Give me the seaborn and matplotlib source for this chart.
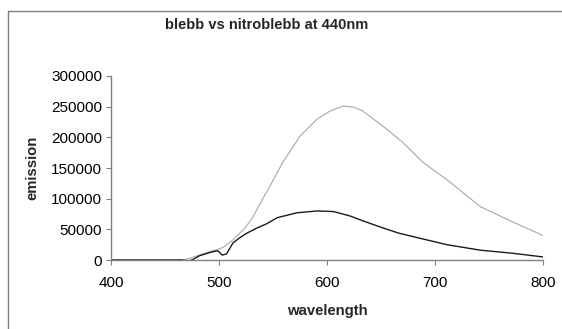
import numpy as np
import pandas as pd
import seaborn as sns
import matplotlib
matplotlib.use('Agg')
import matplotlib.pyplot as plt
from matplotlib.lines import Line2D
from matplotlib.ticker import MultipleLocator, FuncFormatter

# Values (emission spectra, excitation 440 nm)
wl_blebb = [400, 460, 470, 480, 490, 500, 505, 513, 524, 531, 539, 547, 559, 575,
            591, 603, 615, 625, 633, 652, 670, 689, 711, 742, 772, 800]
blebb = [0, 0, 1000, 7000, 13000, 18000, 22000, 33000, 52000, 69000, 95000, 120000,
         159000, 202000, 230000, 243000, 251000, 249000, 243000, 218000, 192000,
         159000, 131000, 87000, 62000, 40000]

wl_nitro = [400, 465, 472, 476, 482, 494, 499, 503, 507, 513, 519, 526, 535, 544,
            554, 572, 591, 606, 621, 633, 649, 666, 680, 711, 742, 772, 800]
nitroblebb = [0, 0, -2000, 1000, 7000, 13500, 15000, 8000, 10000, 28000, 36000,
              44000, 52000, 59000, 69000, 77000, 80000, 79000, 72000, 64000, 54000,
              44000, 38000, 25000, 16000, 11000, 5000]

x_ticks = [400, 500, 600, 700, 800]

df_b = pd.DataFrame({'wavelength': wl_blebb, 'emission': blebb})
df_n = pd.DataFrame({'wavelength': wl_nitro, 'emission': nitroblebb})

sns.set_style('white')
plt.rcParams['font.family'] = ['Liberation Sans', 'DejaVu Sans']

fig = plt.figure(figsize=(5.62, 3.29), dpi=100)
ax = fig.add_axes([0.1975, 0.2097, 0.7687, 0.5593])

sns.lineplot(x='wavelength', y='emission', data=df_b, ax=ax, color='#a8a8a8', linewidth=0.8)
sns.lineplot(x='wavelength', y='emission', data=df_n, ax=ax, color='#1a1a1a', linewidth=1.0)

ax.set_xlim(400, 800)
ax.set_ylim(0, 300000)
ax.set_xticks(x_ticks)
ax.yaxis.set_major_locator(MultipleLocator(50000))
ax.yaxis.set_major_formatter(FuncFormatter(lambda v, p: f'{int(v)}'))

sns.despine(ax=ax)
for s in ['left', 'bottom']:
    ax.spines[s].set_color('#808080')
    ax.spines[s].set_linewidth(1.0)
ax.tick_params(axis='both', direction='out', length=3.5, width=0.8, color='#808080',
               labelsize=11, labelcolor='black', left=True, bottom=True)
ax.tick_params(axis='y', pad=3)
ax.tick_params(axis='x', pad=8)

ax.set_xlabel('wavelength', fontsize=10.7, fontweight='bold', labelpad=10)
ax.set_ylabel('emission', fontsize=10.7, fontweight='bold', labelpad=8)
fig.text(0.475, 0.925, 'blebb vs nitroblebb at 440nm', ha='center', va='center',
         fontsize=10.5, fontweight='bold')

# chart-area frame (top and left edges visible in the crop)
fig.add_artist(Line2D([8 / 562, 1], [1 - 11 / 329, 1 - 11 / 329], transform=fig.transFigure,
                      color='#808080', linewidth=1.0))
fig.add_artist(Line2D([8 / 562, 8 / 562], [0, 1 - 11 / 329], transform=fig.transFigure,
                      color='#808080', linewidth=1.0))

fig.savefig('out.png', dpi=100)
